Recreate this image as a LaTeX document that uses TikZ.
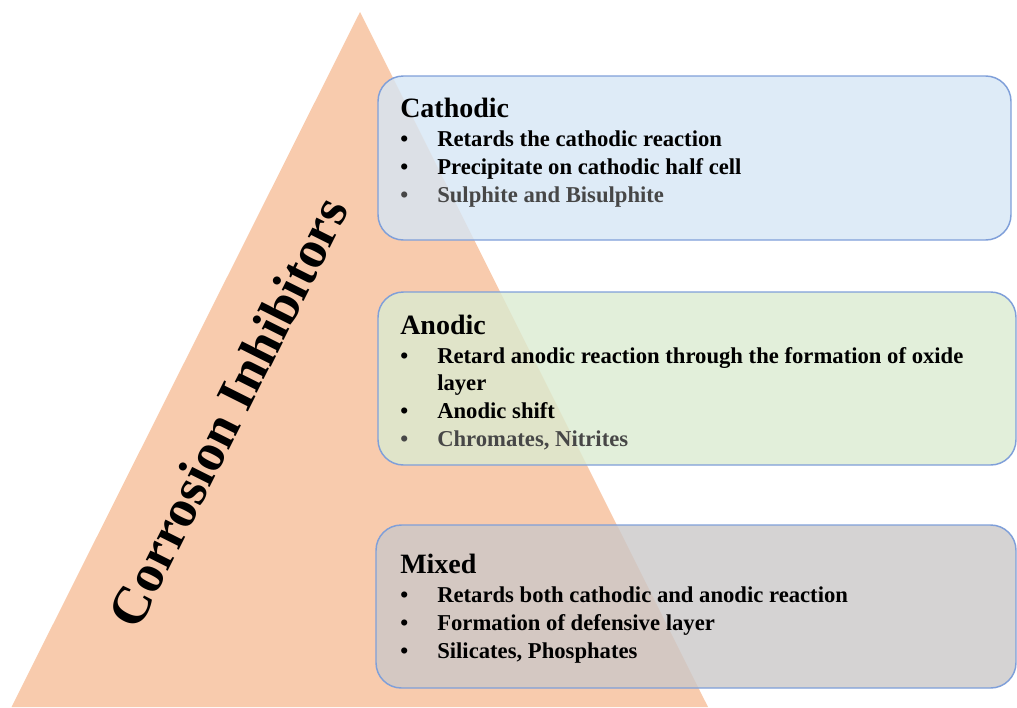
\documentclass[tikz,border=0pt]{standalone}
\usepackage{fontspec}
\setmainfont{Liberation Serif}
\definecolor{peach}{HTML}{F8CBAD}
\definecolor{boxline}{HTML}{7F9FD9}
\definecolor{cathfill}{RGB}{214,230,245}
\definecolor{anofill}{RGB}{219,235,209}
\definecolor{mixfill}{RGB}{203,200,200}
\definecolor{examples}{HTML}{474747}
\tikzset{
  panel/.style={draw=boxline, line width=1.1pt, rounded corners=19pt,
    fill opacity=0.8, inner sep=0pt},
  ttl/.style={anchor=base west, inner sep=0pt,
    font=\bfseries\fontsize{21}{25}\selectfont},
  itm/.style={anchor=base west, inner sep=0pt,
    font=\bfseries\fontsize{17}{20}\selectfont},
  dot/.style={itm},
  grey/.style={text=examples},
}
\begin{document}
\begin{tikzpicture}[x=0.75pt,y=-0.75pt]
\useasboundingbox (0,0) rectangle (1017,707);
\clip (0,0) rectangle (1017,707);

% pyramid
\fill[peach] (360,12) -- (708,707) -- (11.5,707) -- cycle;
\node[rotate=63.4, inner sep=0pt, font=\bfseries\fontsize{40}{44}\selectfont]
  (title) at (228,412) {Corrosion Inhibitors};

% category panels
\node[panel, fill=cathfill, minimum width=474.75pt, minimum height=123pt]
  (cath) at (694.5,158) {};
\node[panel, fill=anofill, minimum width=478.5pt, minimum height=129.75pt]
  (ano) at (697,378.5) {};
\node[panel, fill=mixfill, minimum width=480pt, minimum height=122.25pt]
  (mix) at (696,606.5) {};

% cathodic
\node[ttl] (cathT) at (400,117) {Cathodic};
\node[dot] (cb1) at (400,146) {•};
\node[itm] (ct1) at (437,146) {Retards the cathodic reaction};
\node[dot] (cb2) at (400,174) {•};
\node[itm] (ct2) at (437,174) {Precipitate on cathodic half cell};
\node[dot, grey] (cb3) at (400,202) {•};
\node[itm, grey] (ct3) at (437,202) {Sulphite and Bisulphite};

% anodic
\node[ttl] (anoT) at (400,334) {Anodic};
\node[dot] (ab1) at (400,363) {•};
\node[itm] (at1) at (437,363) {Retard anodic reaction through the formation of oxide};
\node[itm] (at1b) at (437,390) {layer};
\node[dot] (ab2) at (400,418) {•};
\node[itm] (at2) at (437,418) {Anodic shift};
\node[dot, grey] (ab3) at (400,446) {•};
\node[itm, grey] (at3) at (437,446) {Chromates, Nitrites};

% mixed
\node[ttl] (mixT) at (400,573) {Mixed};
\node[dot] (mb1) at (400,602) {•};
\node[itm] (mt1) at (437,602) {Retards both cathodic and anodic reaction};
\node[dot] (mb2) at (400,630) {•};
\node[itm] (mt2) at (437,630) {Formation of defensive layer};
\node[dot] (mb3) at (400,658) {•};
\node[itm] (mt3) at (437,658) {Silicates, Phosphates};
\end{tikzpicture}
\end{document}
